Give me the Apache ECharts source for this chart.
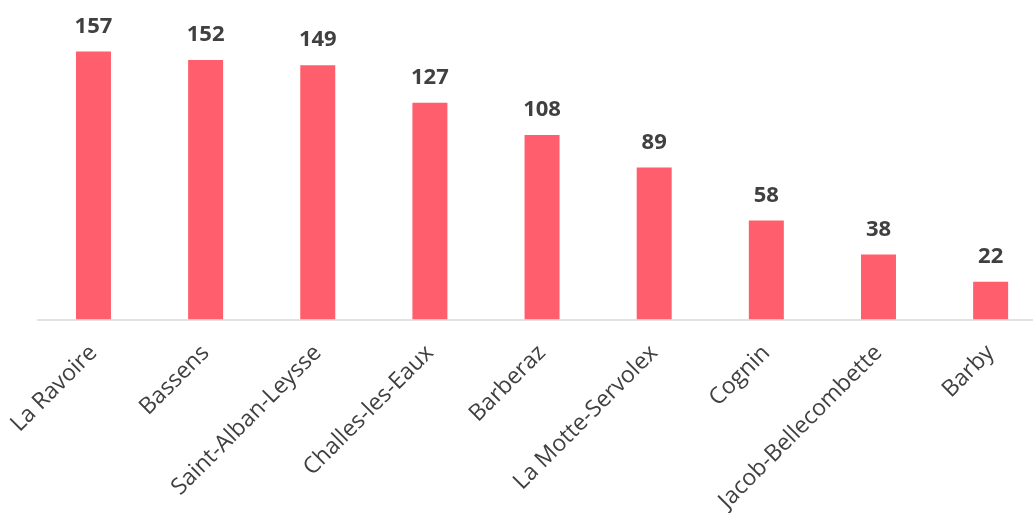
<!DOCTYPE html>
<html>
<head>
<meta charset="utf-8">
<script src="https://cdn.jsdelivr.net/npm/echarts@6/dist/echarts.min.js"></script>
<style>html,body{margin:0;padding:0;background:#fff;}#c{width:1033px;height:513px;}</style>
</head>
<body>
<div id="c"></div>
<script>
const categories = ["La Ravoire","Bassens","Saint-Alban-Leysse","Challes-les-Eaux","Barberaz","La Motte-Servolex","Cognin","Jacob-Bellecombette","Barby"];
const values = [157,152,149,127,108,89,58,38,22];

const chart = echarts.init(document.getElementById('c'), null, {renderer:'canvas'});
chart.setOption({
  animation:false,
  backgroundColor:'#ffffff',
  grid:{left:37.4, right:-13.7, top:12.3, bottom:193.7, containLabel:false, outerBoundsMode:'none'},
  xAxis:{
    type:'category', data:categories,
    axisLine:{show:true, lineStyle:{color:'#d9d9d9', width:1.5}},
    axisTick:{show:false},
    axisLabel:{rotate:45, interval:0, margin:30, fontFamily:'Open Sans', fontSize:23, color:'#404040'}
  },
  yAxis:{type:'value', min:0, max:180, show:false, splitLine:{show:false}},
  series:[{
    type:'bar', data:values, barWidth:35,
    itemStyle:{color:'#ff5f6d'},
    label:{show:true, position:'top', distance:14, fontFamily:'Open Sans', fontWeight:'bold', fontSize:22, color:'#404040'}
  }]
});
</script>
</body>
</html>
